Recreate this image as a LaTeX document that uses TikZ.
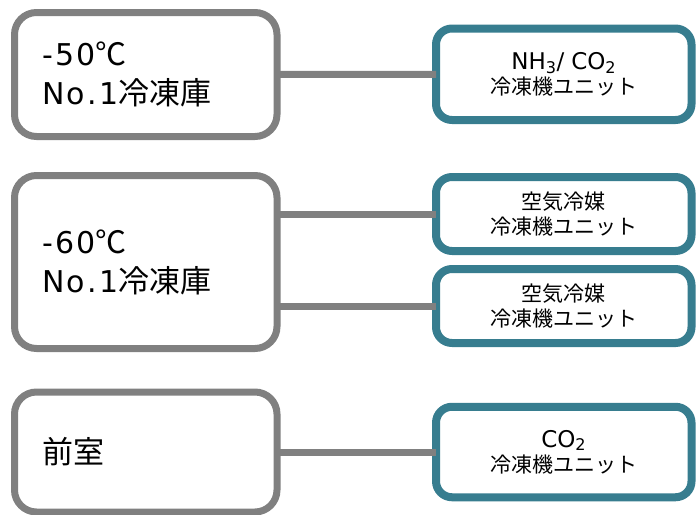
\documentclass[tikz,border=0pt]{standalone}
\usepackage{fontspec}
\setmainfont{DejaVu Sans}
\newfontfamily\jp{Noto Sans CJK JP}
\newfontfamily\widelatin[LetterSpace=8]{DejaVu Sans}
\definecolor{boxgray}{RGB}{128,128,128}
\definecolor{tealline}{RGB}{55,125,143}
\begin{document}
\begin{tikzpicture}[x=1pt,y=1pt,
  lbox/.style={draw=boxgray, line width=7pt, rounded corners=22pt, fill=white,
    text width=207.5pt, inner xsep=27.5pt, inner ysep=0pt, align=left, outer sep=0pt,
    font=\fontsize{30}{39}\selectfont},
  rbox/.style={draw=tealline, line width=8pt, rounded corners=16pt, fill=white,
    text width=235pt, inner xsep=10.25pt, inner ysep=0pt, align=center, outer sep=0pt,
    font=\fontsize{21}{25}\selectfont},
  conn/.style={draw=boxgray, line width=7pt}]
\useasboundingbox (0,0) rectangle (698,-514);
\node[lbox, minimum height=124pt] (L1) at (145.75,-74.5) {{\widelatin -50}{\jp\fontsize{31}{39}\selectfont ℃}\\{\widelatin No.1}{\jp\fontsize{31}{39}\selectfont 冷凍庫}};
\node[lbox, minimum height=173pt] (L2) at (145.75,-262) {{\widelatin -60}{\jp\fontsize{31}{39}\selectfont ℃}\\{\widelatin No.1}{\jp\fontsize{31}{39}\selectfont 冷凍庫}};
\node[lbox, minimum height=120pt] (L3) at (145.75,-452) {{\jp\fontsize{31}{39}\selectfont 前室}};
\node[rbox, minimum height=91.5pt] (A) at (563.75,-74.25) {{\fontsize{23}{25}\selectfont NH\textsubscript{3}/ CO\textsubscript{2}}\\{\jp 冷凍機ユニット}};
\node[rbox, minimum height=74pt] (B) at (563.75,-214) {{\jp 空気冷媒}\\{\jp 冷凍機ユニット}};
\node[rbox, minimum height=74pt] (C) at (563.75,-306) {{\jp 空気冷媒}\\{\jp 冷凍機ユニット}};
\node[rbox, minimum height=90.5pt] (D) at (563.75,-452) {{\fontsize{23}{25}\selectfont CO\textsubscript{2}}\\{\jp 冷凍機ユニット}};
\draw[conn] (L1.east) -- (A.west);
\draw[conn] (L2.east |- B.west) -- (B.west);
\draw[conn] (L2.east |- C.west) -- (C.west);
\draw[conn] (L3.east) -- (D.west);
\end{tikzpicture}
\end{document}
